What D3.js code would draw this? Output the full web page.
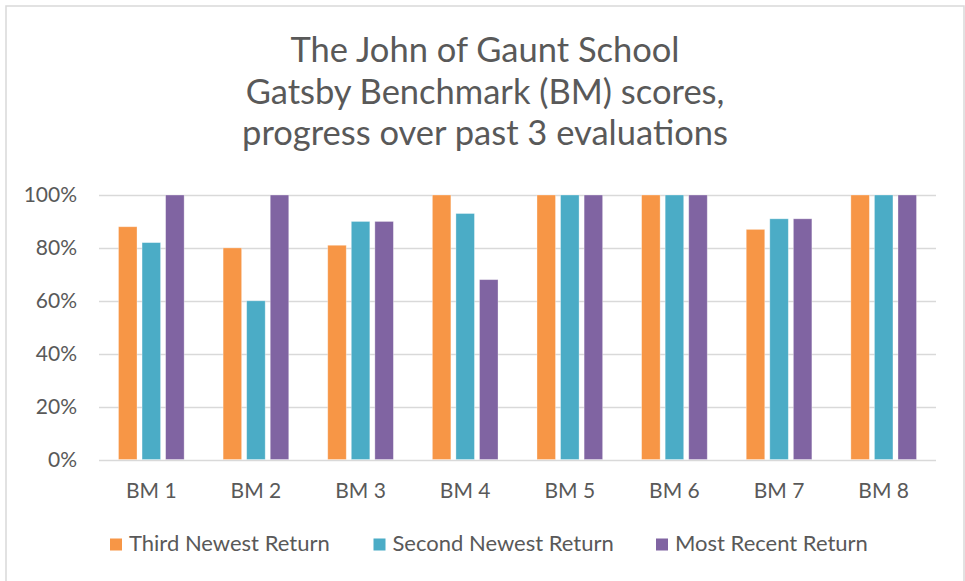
<!DOCTYPE html>
<html>
<head>
<meta charset="utf-8">
<script src="https://cdn.jsdelivr.net/npm/d3@7"></script>
<style>
  body { margin: 0; background: #fff; }
  text { font-family: Lato, "Open Sans", sans-serif; fill: #595959; }
</style>
</head>
<body>
<svg width="965" height="581"></svg>
<script>
// chart data
const categories = ["BM 1", "BM 2", "BM 3", "BM 4", "BM 5", "BM 6", "BM 7", "BM 8"];
const seriesNames = ["Third Newest Return", "Second Newest Return", "Most Recent Return"];
const thirdNewest = [88, 80, 81, 100, 100, 100, 87, 100];
const secondNewest = [82, 60, 90, 93, 100, 100, 91, 100];
const mostRecent = [100, 100, 90, 68, 100, 100, 91, 100];
const yTicks = [0, 20, 40, 60, 80, 100];
const titleLines = ["The John of Gaunt School", "Gatsby Benchmark (BM) scores,", "progress over past 3 evaluations"];

const colors = ["#F79646", "#4BACC6", "#8064A2"];
const seriesValues = [thirdNewest, secondNewest, mostRecent];

let svg = d3.select("svg");

// outer chart border
svg.append("rect")
    .attr("x", 6).attr("y", 6)
    .attr("width", 958).attr("height", 600)
    .attr("fill", "none")
    .attr("stroke", "#D9D9D9")
    .attr("stroke-width", 1.5);

// title
svg.append("g").selectAll("text")
    .data(titleLines)
    .enter().append("text")
    .attr("x", 485)
    .attr("y", (d, i) => 62 + i * 41.7)
    .attr("text-anchor", "middle")
    .attr("font-size", 34.5)
    .text(d => d);

let x0 = d3.scaleBand()
    .domain(categories)
    .range([99, 936]);

let x1 = d3.scaleBand()
    .domain(seriesNames)
    .range([0, x0.bandwidth()])
    .paddingInner(0.214)
    .paddingOuter(0.827);

let y = d3.scaleLinear()
    .domain([0, 100])
    .range([459.5, 195]);

// gridlines
svg.append("g").selectAll("line")
    .data(yTicks)
    .enter().append("line")
    .attr("x1", 99).attr("x2", 936)
    .attr("y1", d => Math.round(y(d)) + 0.5)
    .attr("y2", d => Math.round(y(d)) + 0.5)
    .attr("stroke", "#D9D9D9")
    .attr("stroke-width", 1.3);

// y axis labels
svg.append("g").selectAll("text")
    .data(yTicks)
    .enter().append("text")
    .attr("x", 77)
    .attr("y", d => y(d))
    .attr("dy", "0.35em")
    .attr("text-anchor", "end")
    .attr("font-size", 21)
    .text(d => d + "%");

// bars
let groups = svg.append("g").selectAll("g")
    .data(categories)
    .enter().append("g")
    .attr("transform", d => `translate(${x0(d)},0)`);

groups.selectAll("rect")
    .data((d, i) => seriesNames.map((s, j) => ({ series: s, value: seriesValues[j][i], color: colors[j] })))
    .enter().append("rect")
    .attr("x", d => x1(d.series))
    .attr("y", d => y(d.value))
    .attr("width", x1.bandwidth())
    .attr("height", d => y(0) - y(d.value))
    .attr("fill", d => d.color)
    .attr("stroke", "#fff")
    .attr("stroke-opacity", 0.4)
    .attr("stroke-width", 0.8);

// x axis labels
svg.append("g").selectAll("text")
    .data(categories)
    .enter().append("text")
    .attr("x", d => x0(d) + x0.bandwidth() / 2)
    .attr("y", 498)
    .attr("text-anchor", "middle")
    .attr("font-size", 21)
    .text(d => d);

// legend
let legendX = [110, 373.5, 656];
let legend = svg.append("g").selectAll("g")
    .data(seriesNames)
    .enter().append("g")
    .attr("transform", (d, i) => `translate(${legendX[i]},538.5)`);

legend.append("rect")
    .attr("width", 12).attr("height", 12)
    .attr("fill", (d, i) => colors[i]);

legend.append("text")
    .attr("x", 19)
    .attr("y", 12.5)
    .attr("font-size", 22)
    .text(d => d);
</script>
</body>
</html>
